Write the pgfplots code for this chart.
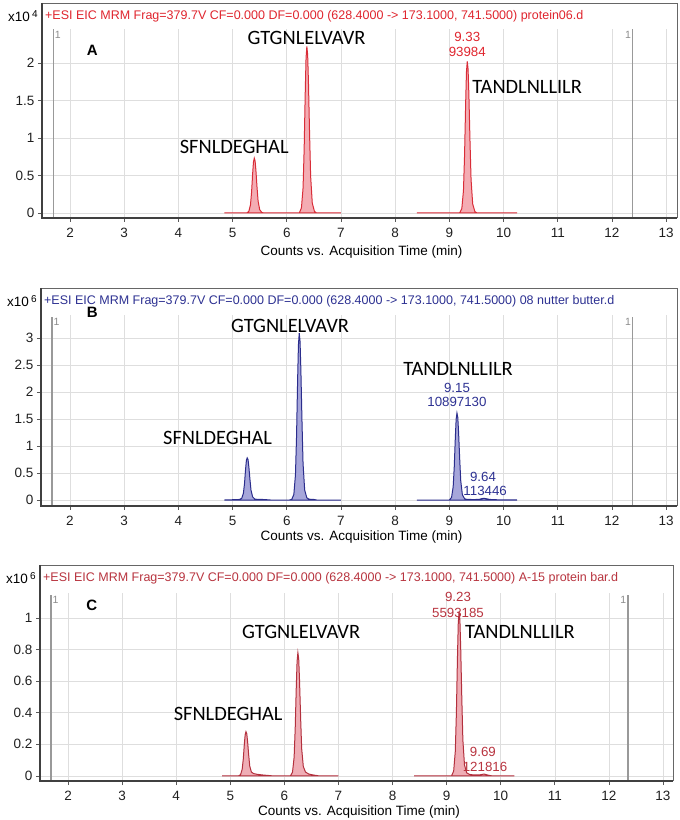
\documentclass[border=0pt]{standalone}
\usepackage{fontspec}
\setmainfont{Liberation Sans}
\newfontfamily\calib{Carlito}
\usepackage{pgfplots}
\usepackage{pgfplotstable}
\pgfplotsset{compat=1.18}
\definecolor{lineA}{HTML}{D92D38}
\definecolor{fillA}{HTML}{F4ACB3}
\definecolor{hdrA}{HTML}{E0252E}
\definecolor{lineB}{HTML}{2B2D8C}
\definecolor{fillB}{HTML}{A6A6DA}
\definecolor{hdrB}{HTML}{2D3192}
\definecolor{lineC}{HTML}{B3303D}
\definecolor{fillC}{HTML}{EFADB5}
\definecolor{hdrC}{HTML}{B8343F}

\pgfplotstableread{
x y
4.85 0
5.26 0
5.30 0.022
5.33 0.11
5.35 0.277
5.37 0.526
5.385 0.679
5.40 0.73
5.415 0.694
5.43 0.569
5.45 0.350
5.47 0.161
5.50 0.044
5.54 0.007
5.58 0
6.23 0
6.27 0.067
6.30 0.333
6.32 0.844
6.34 1.598
6.355 2.065
6.37 2.22
6.385 2.109
6.40 1.732
6.42 1.066
6.44 0.488
6.47 0.133
6.51 0.022
6.55 0
7.0 0
}\tabAone
\pgfplotstableread{
x y
8.40 0
9.19 0
9.23 0.061
9.26 0.303
9.28 0.768
9.30 1.454
9.315 1.879
9.33 2.02
9.345 1.919
9.36 1.576
9.38 0.970
9.40 0.444
9.43 0.121
9.47 0.020
9.51 0
10.25 0
}\tabAtwo
\pgfplotstableread{
x y
4.85 0
5.00 0.005
5.13 0.01
5.17 0.033
5.20 0.127
5.22 0.306
5.24 0.572
5.255 0.735
5.27 0.78
5.285 0.751
5.30 0.618
5.32 0.384
5.34 0.182
5.37 0.057
5.41 0.018
5.45 0.012
5.55 0.01
5.62 0.006
5.70 0
6.05 0
6.09 0.01
6.13 0.1
6.16 0.464
6.18 1.174
6.20 2.225
6.215 2.874
6.23 3.09
6.245 2.936
6.26 2.41
6.28 1.483
6.30 0.680
6.33 0.185
6.37 0.04
6.41 0.015
6.50 0.01
6.55 0
7.0 0
}\tabBone
\pgfplotstableread{
x y
8.40 0
9.00 0
9.04 0.048
9.07 0.242
9.09 0.612
9.11 1.159
9.125 1.497
9.14 1.61
9.155 1.53
9.17 1.256
9.19 0.773
9.21 0.354
9.24 0.097
9.28 0.025
9.32 0.012
9.45 0.008
9.55 0.012
9.60 0.025
9.64 0.032
9.68 0.024
9.75 0.01
9.85 0.005
10.25 0
}\tabBtwo
\pgfplotstableread{
x y
4.85 0
5.15 0
5.19 0.008
5.22 0.042
5.24 0.106
5.26 0.202
5.275 0.26
5.29 0.28
5.305 0.266
5.32 0.218
5.34 0.134
5.36 0.062
5.39 0.025
5.43 0.015
5.50 0.01
5.60 0.006
5.70 0.003
5.80 0
6.11 0
6.15 0.023
6.18 0.117
6.20 0.296
6.22 0.562
6.235 0.725
6.25 0.78
6.265 0.741
6.28 0.608
6.30 0.374
6.32 0.172
6.35 0.06
6.39 0.025
6.45 0.012
6.55 0.005
6.65 0
7.0 0
}\tabCone
\pgfplotstableread{
x y
8.40 0
9.09 0
9.13 0.031
9.16 0.156
9.18 0.395
9.20 0.749
9.215 0.967
9.23 1.04
9.245 0.988
9.26 0.811
9.28 0.499
9.30 0.229
9.33 0.07
9.37 0.02
9.42 0.01
9.50 0.006
9.60 0.006
9.69 0.012
9.78 0.004
9.85 0
10.25 0
}\tabCtwo

\newcommand{\hdr}{+ESI EIC MRM Frag=379.7V CF=0.000 DF=0.000 (628.4000 -> 173.1000, 741.5000)}

\tikzset{
  pep/.style={font=\calib\fontsize{20.4}{22}\selectfont, inner sep=0pt},
  num/.style={font=\fontsize{13.3}{14}\selectfont, inner sep=0pt},
  lett/.style={font=\bfseries\fontsize{15}{16}\selectfont, inner sep=0pt},
  mk/.style={draw=black!40, line width=1.4pt},
  mkn/.style={text=black!45, font=\fontsize{10.5}{10.5}\selectfont, inner sep=1.5pt},
  xl/.style={font=\fontsize{13.5}{14}\selectfont},
  hd/.style={anchor=west, inner sep=0pt, xshift=3pt, yshift=-13pt, font=\fontsize{12.5}{13}\selectfont},
  ex/.style={anchor=east, inner sep=0pt, xshift=-4pt, yshift=-13pt, font=\fontsize{13.5}{14}\selectfont},
}
\pgfplotsset{
  chrom/.style={
    scale only axis, clip=false,
    axis line style={draw=none},
    grid=major, grid style={draw=black!13, line width=0.6pt},
    tick align=outside, tick pos=left,
    major tick length=4pt,
    tick style={draw=black!65, line width=0.8pt},
    xtick={2,3,...,13},
    tick label style={font=\fontsize{13.5}{14}\selectfont, text=black!88},
    xticklabel style={yshift=-3pt},
    /pgf/number format/assume math mode=true,
  },
}

\begin{document}
\begin{tikzpicture}
\useasboundingbox (0pt,0pt) rectangle (680pt,820pt);
% ---------------- Panel A ----------------
\begin{axis}[chrom, at={(42pt,602pt)}, anchor=south west, width=635pt, height=215pt,
  xmin=1.483, xmax=13.2, ymin=-0.0667, ymax=2.8, ytick={0,0.5,1,1.5,2}]
\draw[mk] (axis cs:1.69,-0.0667) -- (axis cs:1.69,2.45);
\draw[mk] (axis cs:12.38,-0.0667) -- (axis cs:12.38,2.45);
\addplot[draw=lineA, fill=fillA, line width=1pt] table[x=x,y=y] {\tabAone} \closedcycle;
\addplot[draw=lineA, fill=fillA, line width=1pt] table[x=x,y=y] {\tabAtwo} \closedcycle;
\fill[white] (rel axis cs:0,0.879) rectangle (rel axis cs:1,1);
\node[mkn, anchor=north west] at (axis cs:1.69,2.45) {1};
\node[mkn, anchor=north east] at (axis cs:12.38,2.45) {1};
\node[hd, text=hdrA] at (rel axis cs:0,1) {\hdr{} protein06.d};
\node[ex] at (rel axis cs:0,1) {x10\,\raisebox{4.5pt}{\fontsize{10}{10}\selectfont 4}};
\node[lett] at (axis cs:2.41,2.17) {A};
\node[pep] at (axis cs:6.365,2.33) {GTGNLELVAVR};
\node[pep] at (axis cs:5.03,0.88) {SFNLDEGHAL};
\node[pep, anchor=west] at (axis cs:9.42,1.68) {TANDLNLLILR};
\node[num, text=hdrA] at (axis cs:9.33,2.35) {9.33};
\node[num, text=hdrA] at (axis cs:9.33,2.15) {93984};
\node[xl, yshift=-34pt] at (axis cs:7.38,-0.0667) {Counts vs. Acquisition Time (min)};
\draw[black!60, line width=0.7pt] (rel axis cs:0,1) -- (rel axis cs:1,1) -- (rel axis cs:1,0);
\draw[black!75, line width=1.5pt] (rel axis cs:0,1) -- (rel axis cs:0,0) -- (rel axis cs:1,0);
\end{axis}
% ---------------- Panel B ----------------
\begin{axis}[chrom, at={(41pt,314pt)}, anchor=south west, width=636pt, height=218pt,
  xmin=1.465, xmax=13.2, ymin=-0.111, ymax=3.926, ytick={0,0.5,1,1.5,2,2.5,3}]
\draw[mk] (axis cs:1.668,-0.111) -- (axis cs:1.668,3.39);
\draw[mk] (axis cs:12.38,-0.111) -- (axis cs:12.38,3.39);
\addplot[draw=lineB, fill=fillB, line width=1pt] table[x=x,y=y] {\tabBone} \closedcycle;
\addplot[draw=lineB, fill=fillB, line width=1pt] table[x=x,y=y] {\tabBtwo} \closedcycle;
\fill[white] (rel axis cs:0,0.876) rectangle (rel axis cs:1,1);
\node[mkn, anchor=north west] at (axis cs:1.668,3.39) {1};
\node[mkn, anchor=north east] at (axis cs:12.38,3.39) {1};
\node[hd, text=hdrB] at (rel axis cs:0,1) {\hdr{} 08 nutter butter.d};
\node[ex] at (rel axis cs:0,1) {x10\,\raisebox{4.5pt}{\fontsize{10}{10}\selectfont 6}};
\node[lett] at (axis cs:2.41,3.48) {B};
\node[pep] at (axis cs:6.06,3.22) {GTGNLELVAVR};
\node[pep, anchor=east] at (axis cs:5.73,1.15) {SFNLDEGHAL};
\node[pep] at (axis cs:9.16,2.43) {TANDLNLLILR};
\node[num, text=hdrB] at (axis cs:9.14,2.08) {9.15};
\node[num, text=hdrB] at (axis cs:9.14,1.81) {10897130};
\node[num, text=hdrB] at (axis cs:9.62,0.43) {9.64};
\node[num, text=hdrB] at (axis cs:9.66,0.17) {113446};
\node[xl, yshift=-31pt] at (axis cs:7.38,-0.111) {Counts vs. Acquisition Time (min)};
\draw[black!60, line width=0.7pt] (rel axis cs:0,1) -- (rel axis cs:1,1) -- (rel axis cs:1,0);
\draw[black!75, line width=1.5pt] (rel axis cs:0,1) -- (rel axis cs:0,0) -- (rel axis cs:1,0);
\end{axis}
% ---------------- Panel C ----------------
\begin{axis}[chrom, at={(40pt,39pt)}, anchor=south west, width=633pt, height=216pt,
  xmin=1.482, xmax=13.185, ymin=-0.032, ymax=1.335, ytick={0,0.2,0.4,0.6,0.8,1}]
\draw[mk] (axis cs:1.686,-0.032) -- (axis cs:1.686,1.146);
\draw[mk] (axis cs:12.35,-0.032) -- (axis cs:12.35,1.146);
\addplot[draw=lineC, fill=fillC, line width=1pt] table[x=x,y=y] {\tabCone} \closedcycle;
\addplot[draw=lineC, fill=fillC, line width=1pt] table[x=x,y=y] {\tabCtwo} \closedcycle;
\fill[white] (rel axis cs:0,0.870) rectangle (rel axis cs:1,1);
\node[mkn, anchor=north west] at (axis cs:1.686,1.146) {1};
\node[mkn, anchor=north east] at (axis cs:12.35,1.146) {1};
\node[hd, text=hdrC] at (rel axis cs:0,1) {\hdr{} A-15 protein bar.d};
\node[ex] at (rel axis cs:0,1) {x10\,\raisebox{4.5pt}{\fontsize{10}{10}\selectfont 6}};
\node[lett] at (axis cs:2.44,1.08) {C};
\node[pep] at (axis cs:6.31,0.91) {GTGNLELVAVR};
\node[pep, anchor=west] at (axis cs:9.34,0.91) {TANDLNLLILR};
\node[pep, anchor=east] at (axis cs:5.97,0.39) {SFNLDEGHAL};
\node[num, text=hdrC] at (axis cs:9.21,1.13) {9.23};
\node[num, text=hdrC] at (axis cs:9.21,1.03) {5593185};
\node[num, text=hdrC] at (axis cs:9.67,0.15) {9.69};
\node[num, text=hdrC] at (axis cs:9.71,0.057) {121816};
\node[xl, yshift=-31pt] at (axis cs:7.38,-0.032) {Counts vs. Acquisition Time (min)};
\draw[black!60, line width=0.7pt] (rel axis cs:0,1) -- (rel axis cs:1,1) -- (rel axis cs:1,0);
\draw[black!75, line width=1.5pt] (rel axis cs:0,1) -- (rel axis cs:0,0) -- (rel axis cs:1,0);
\end{axis}
\end{tikzpicture}
\end{document}
